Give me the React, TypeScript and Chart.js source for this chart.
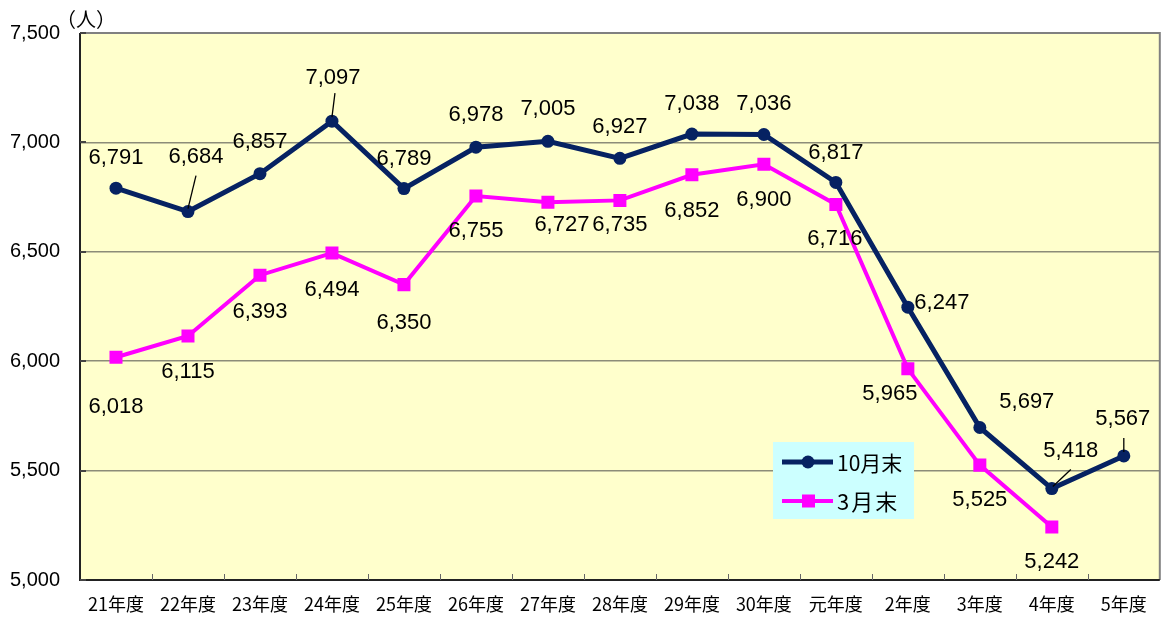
import React, { useEffect, useRef } from "react";
import { Chart, registerables } from "chart.js";

Chart.register(...registerables);

const categories = ["21年度", "22年度", "23年度", "24年度", "25年度", "26年度", "27年度", "28年度", "29年度", "30年度", "元年度", "2年度", "3年度", "4年度", "5年度"];
const octoberEnd = [6791, 6684, 6857, 7097, 6789, 6978, 7005, 6927, 7038, 7036, 6817, 6247, 5697, 5418, 5567];
const marchEnd: (number | null)[] = [6018, 6115, 6393, 6494, 6350, 6755, 6727, 6735, 6852, 6900, 6716, 5965, 5525, 5242, null];
const seriesNames = ["10月末", "3月末"];
const yTicks = [5000, 5500, 6000, 6500, 7000, 7500];
const unitLabel = "（人）";

const octLabelOffsets: [number, number][] = [
  [0, -30], [8, -55], [0, -32], [1, -43], [0, -30], [0, -32], [0, -32], [0, -31], [0, -30], [0, -31], [0, -30], [34, -4], [47, -26], [19, -38], [-1, -37],
];
const octLeaders: ([number, number, number, number] | null)[] = [
  null, [8, -36, 0, -3], null, [3, -28, 0, -4], null, null, null, null, null, null, null, null, null, [19, -19, 1, -2], [0, -18, 0, -4],
];
const marLabelOffsets: [number, number][] = [
  [0, 50], [0, 36], [0, 37], [0, 37], [0, 38], [0, 35], [14, 23], [0, 25], [0, 36], [0, 36], [-1, 34], [-18, 25], [0, 35], [0, 35], [0, 0],
];

const NAVY = "#062262";
const MAGENTA = "#FF00FF";
const GRID = "#8c8c78";

const fmt = (v: number) => v.toLocaleString("en-US");

export default function App() {
  const ref = useRef<HTMLCanvasElement | null>(null);

  useEffect(() => {
    const canvas = ref.current;
    if (!canvas) return;

    const decor = {
      id: "decor",
      beforeDraw(chart: any) {
        const { ctx, chartArea: a } = chart;
        ctx.save();
        ctx.fillStyle = "#FFFFCC";
        ctx.fillRect(a.left, a.top, a.right - a.left, a.bottom - a.top);
        ctx.restore();
      },
      beforeDatasetsDraw(chart: any) {
        const { ctx, chartArea: a, scales } = chart;
        ctx.save();
        ctx.strokeStyle = "#808080";
        ctx.lineWidth = 2;
        ctx.beginPath();
        ctx.moveTo(a.left, a.top);
        ctx.lineTo(a.right, a.top);
        ctx.lineTo(a.right, a.bottom);
        ctx.stroke();
        ctx.strokeStyle = "#222222";
        ctx.beginPath();
        ctx.moveTo(a.left, a.top);
        ctx.lineTo(a.left, a.bottom);
        ctx.lineTo(a.right, a.bottom);
        ctx.stroke();
        ctx.strokeStyle = "#666666";
        ctx.lineWidth = 1;
        const xs = scales.x;
        for (let i = 1; i < categories.length; i++) {
          const xb = Math.round((xs.getPixelForValue(i - 1) + xs.getPixelForValue(i)) / 2) + 0.5;
          ctx.beginPath();
          ctx.moveTo(xb, a.bottom);
          ctx.lineTo(xb, a.bottom - 6);
          ctx.stroke();
        }
        ctx.strokeStyle = "#444444";
        ctx.lineWidth = 2;
        for (const t of yTicks) {
          const yy = Math.round(scales.y.getPixelForValue(t));
          ctx.beginPath();
          ctx.moveTo(a.left, yy);
          ctx.lineTo(a.left + 6, yy);
          ctx.stroke();
        }
        ctx.restore();
      },
      afterDraw(chart: any) {
        const { ctx, scales } = chart;
        const xs = scales.x;
        const ys = scales.y;
        ctx.save();
        ctx.fillStyle = "#000";
        ctx.textAlign = "center";
        ctx.textBaseline = "middle";
        ctx.font = "22px 'Liberation Sans', Arial, sans-serif";
        octoberEnd.forEach((v, i) => {
          const px = xs.getPixelForValue(i);
          const py = ys.getPixelForValue(v);
          const [dx, dy] = octLabelOffsets[i];
          ctx.fillText(fmt(v), px + dx, py + dy);
          const l = octLeaders[i];
          if (l) {
            ctx.strokeStyle = "#000";
            ctx.lineWidth = 1.3;
            ctx.beginPath();
            ctx.moveTo(px + l[0], py + l[1]);
            ctx.lineTo(px + l[2], py + l[3]);
            ctx.stroke();
          }
        });
        marchEnd.forEach((v, i) => {
          if (v == null) return;
          const px = xs.getPixelForValue(i);
          const py = ys.getPixelForValue(v);
          const [dx, dy] = marLabelOffsets[i];
          ctx.fillText(fmt(v), px + dx, py + dy);
        });
        ctx.textAlign = "left";
        ctx.font = "20px 'Noto Sans CJK JP', sans-serif";
        ctx.fillText(unitLabel, 56, 19);
        const lx = 773, ly = 442, lw = 141, lh = 77;
        ctx.fillStyle = "#CCFFFF";
        ctx.fillRect(lx, ly, lw, lh);
        const rows = [
          { y: 462, color: NAVY, shape: "circle", name: seriesNames[0], font: "21px 'Noto Sans CJK JP', sans-serif", ls: "0px" },
          { y: 501, color: MAGENTA, shape: "rect", name: seriesNames[1], font: "22px 'Noto Sans CJK JP', sans-serif", ls: "2px" },
        ];
        for (const r of rows) {
          ctx.strokeStyle = r.color;
          ctx.lineWidth = r.shape === "circle" ? 5 : 4;
          ctx.beginPath();
          ctx.moveTo(782, r.y);
          ctx.lineTo(833, r.y);
          ctx.stroke();
          ctx.fillStyle = r.color;
          if (r.shape === "circle") {
            ctx.beginPath();
            ctx.arc(808, r.y, 6.5, 0, Math.PI * 2);
            ctx.fill();
          } else {
            ctx.fillRect(802, r.y - 6.5, 13, 13);
          }
          ctx.fillStyle = "#000";
          ctx.font = r.font;
          (ctx as any).letterSpacing = r.ls;
          ctx.textAlign = "left";
          ctx.fillText(r.name, 837, r.y + 1);
          (ctx as any).letterSpacing = "0px";
        }
        ctx.restore();
      },
    };

    const chart = new Chart(canvas, {
      type: "line",
      data: {
        labels: categories,
        datasets: [
          {
            label: seriesNames[0],
            data: octoberEnd,
            borderColor: NAVY,
            backgroundColor: NAVY,
            borderWidth: 5,
            pointStyle: "circle",
            pointRadius: 6.5,
            pointBorderWidth: 0,
            pointBackgroundColor: NAVY,
            tension: 0,
          },
          {
            label: seriesNames[1],
            data: marchEnd,
            borderColor: MAGENTA,
            backgroundColor: MAGENTA,
            borderWidth: 4,
            pointStyle: "rect",
            pointRadius: 9.2,
            pointBorderWidth: 0,
            pointBackgroundColor: MAGENTA,
            tension: 0,
            spanGaps: false,
          },
        ],
      },
      options: {
        responsive: false,
        animation: false,
        events: [],
        layout: { padding: { top: 33, right: 2, left: 0, bottom: 0 } },
        plugins: {
          legend: { display: false },
          tooltip: { enabled: false },
        },
        scales: {
          x: {
            offset: true,
            grid: { display: false, drawTicks: false },
            border: { display: false },
            ticks: {
              color: "#000",
              padding: 13,
              maxRotation: 0,
              autoSkip: false,
              font: { size: 18, family: "'Noto Sans CJK JP', sans-serif" },
            },
            afterFit: (s: any) => {
              s.height = 37;
              s.paddingLeft = 0;
              s.paddingRight = 0;
            },
          },
          y: {
            min: 5000,
            max: 7500,
            afterBuildTicks: (s: any) => {
              s.ticks = yTicks.map((v) => ({ value: v }));
            },
            grid: { color: (c: any) => (c.tick && (c.tick.value === 5000 || c.tick.value === 7500) ? "rgba(0,0,0,0)" : GRID), lineWidth: 1.5, drawTicks: false },
            border: { display: false },
            ticks: {
              color: "#000",
              padding: 20,
              font: { size: 20, family: "'Liberation Sans', Arial, sans-serif" },
              callback: (v: any) => fmt(Number(v)),
            },
            afterFit: (s: any) => {
              s.width = 80;
            },
          },
        },
      },
      plugins: [decor],
    } as any);

    return () => chart.destroy();
  }, []);

  return (
    <div style={{ position: "absolute", left: 0, top: 0, width: 1162, height: 617, overflow: "hidden", background: "#fff" }}>
      <canvas ref={ref} width={1169} height={617} style={{ display: "block" }} />
    </div>
  );
}
